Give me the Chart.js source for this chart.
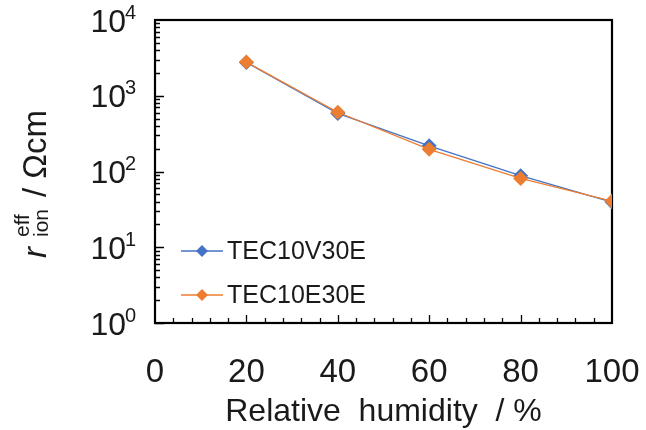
<!DOCTYPE html>
<html>
<head>
<meta charset="utf-8">
<script src="https://cdn.jsdelivr.net/npm/chart.js@4"></script>
<style>
  html, body { margin: 0; padding: 0; background: #fff; }
  #wrap { width: 646px; height: 430px; }
</style>
</head>
<body>
<div id="wrap"><canvas id="chart" width="646" height="430"></canvas></div>
<script>
const FONT = "'Liberation Sans', Arial, sans-serif";
const TEXT = "#1a1a1a";

// data
const humidity = [20, 40, 60, 80, 100];
const tec10v30e = [2750, 585, 218, 88, 39.5];
const tec10e30e = [2780, 605, 196, 81, 40.5];
const seriesNames = ["TEC10V30E", "TEC10E30E"];
const seriesColors = ["#4472C4", "#ED7D31"];
const yDecades = [0, 1, 2, 3, 4];

// frame + inward ticks
const framePlugin = {
  id: "frame",
  beforeDatasetsDraw(chart) {
    const { ctx, chartArea: a, scales } = chart;
    const x = scales.x, y = scales.y;
    ctx.save();
    ctx.strokeStyle = "#000";
    ctx.lineWidth = 1.3;
    ctx.beginPath();
    for (let k = 0; k < 4; k++) {
      for (let m = 1; m <= 9; m++) {
        const py = Math.round(y.getPixelForValue(m * Math.pow(10, k))) + 0.5;
        const len = m === 1 ? 9 : 5;
        ctx.moveTo(a.left, py);
        ctx.lineTo(a.left + len, py);
      }
    }
    for (let v = 4; v < 100; v += 4) {
      const px = Math.round(x.getPixelForValue(v)) + 0.5;
      const len = v % 20 === 0 ? 8 : 5;
      ctx.moveTo(px, a.bottom);
      ctx.lineTo(px, a.bottom - len);
    }
    ctx.stroke();
    ctx.lineWidth = 2.2;
    ctx.strokeRect(a.left, a.top, a.right - a.left, a.bottom - a.top);
    ctx.restore();
  },
  afterDraw(chart) {
    const { ctx, scales } = chart;
    const y = scales.y;
    ctx.save();
    ctx.fillStyle = TEXT;

    // y tick labels 10^n
    yDecades.forEach((n) => {
      const py = y.getPixelForValue(Math.pow(10, n));
      ctx.textBaseline = "alphabetic";
      ctx.font = "32px " + FONT;
      ctx.textAlign = "right";
      ctx.fillText("10", 126, py + 11.5);
      ctx.font = "20px " + FONT;
      ctx.textAlign = "left";
      ctx.fillText(String(n), 125, py - 1.5);
    });

    // y axis title: r_ion^eff / Ωcm
    ctx.translate(46, 184);
    ctx.rotate(-Math.PI / 2);
    ctx.textAlign = "left";
    ctx.textBaseline = "alphabetic";
    ctx.font = "italic 33px " + FONT;
    const wr = ctx.measureText("r").width;
    ctx.font = "21px " + FONT;
    const ws = Math.max(ctx.measureText("eff").width, ctx.measureText("ion").width);
    ctx.font = "33px " + FONT;
    const rest = "/ \u03A9cm";
    const wrest = ctx.measureText(rest).width;
    const gap1 = 10, gap2 = 12;
    let tx = -(wr + gap1 + ws + gap2 + wrest) / 2;
    ctx.font = "italic 33px " + FONT;
    ctx.fillText("r", tx, 0);
    tx += wr + gap1;
    ctx.font = "21px " + FONT;
    ctx.fillText("eff", tx, -17);
    ctx.fillText("ion", tx, 2);
    tx += ws + gap2;
    ctx.font = "33px " + FONT;
    ctx.fillText(rest, tx, 0);
    ctx.restore();

    // legend inside plot
    ctx.save();
    const rows = [251, 295];
    rows.forEach((ly, i) => {
      ctx.strokeStyle = seriesColors[i];
      ctx.lineWidth = 1.3;
      ctx.beginPath();
      ctx.moveTo(181, ly);
      ctx.lineTo(223, ly);
      ctx.stroke();
      ctx.fillStyle = seriesColors[i];
      ctx.beginPath();
      ctx.moveTo(202, ly - 6);
      ctx.lineTo(208, ly);
      ctx.lineTo(202, ly + 6);
      ctx.lineTo(196, ly);
      ctx.closePath();
      ctx.fill();
      ctx.fillStyle = TEXT;
      ctx.font = "25px " + FONT;
      ctx.textAlign = "left";
      ctx.textBaseline = "middle";
      ctx.fillText(seriesNames[i], 227, ly + 1);
    });
    ctx.restore();
  },
};

new Chart(document.getElementById("chart"), {
  type: "line",
  data: {
    datasets: [
      {
        label: seriesNames[0],
        data: humidity.map((h, i) => ({ x: h, y: tec10v30e[i] })),
        borderColor: seriesColors[0],
        backgroundColor: seriesColors[0],
        borderWidth: 1.3,
        pointStyle: "rectRot",
        pointRadius: 7.5,
        pointBorderWidth: 0,
        order: 2,
      },
      {
        label: seriesNames[1],
        data: humidity.map((h, i) => ({ x: h, y: tec10e30e[i] })),
        borderColor: seriesColors[1],
        backgroundColor: seriesColors[1],
        borderWidth: 1.3,
        pointStyle: "rectRot",
        pointRadius: 7.5,
        pointBorderWidth: 0,
        order: 1,
      },
    ],
  },
  options: {
    responsive: false,
    animation: false,
    events: [],
    layout: { padding: { top: 20, right: 34, left: 0, bottom: 0 } },
    plugins: {
      legend: { display: false },
      tooltip: { enabled: false },
      title: { display: false },
    },
    scales: {
      x: {
        type: "linear",
        min: 0,
        max: 100,
        grid: { display: false },
        border: { display: false },
        ticks: {
          stepSize: 20,
          padding: 22,
          color: TEXT,
          font: { family: FONT, size: 33 },
        },
        title: {
          display: true,
          text: "Relative  humidity  / %",
          color: TEXT,
          font: { family: FONT, size: 32, lineHeight: 1 },
          padding: { top: 0, bottom: 2 },
        },
        afterFit: (s) => {
          s.height = 107;
          s.paddingLeft = 0;
          s.paddingRight = 0;
        },
      },
      y: {
        type: "logarithmic",
        min: 1,
        max: 10000,
        grid: { display: false },
        border: { display: false },
        ticks: { display: false },
        afterFit: (s) => { s.width = 155; },
      },
    },
  },
  plugins: [framePlugin],
});
</script>
</body>
</html>
